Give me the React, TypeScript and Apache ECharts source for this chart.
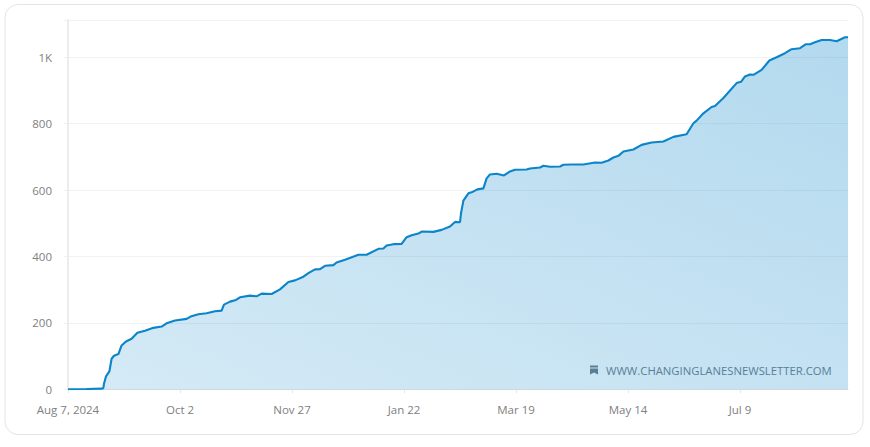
import React, { useEffect, useRef } from "react";
import * as echarts from "echarts";

const days = [0, 9.3, 17, 17.7, 18, 19, 20.7, 21.8, 23, 25.2, 26.8, 29, 31.8, 34.7, 38.5, 42.7, 46.8, 49.7, 53.5, 59.3, 61.3, 65.2, 69.3, 73.5, 76.8, 78, 81, 84, 86, 91, 94.3, 96.8, 101.8, 106, 110.2, 113.5, 117.7, 120.2, 123.5, 126, 128.5, 132.7, 134.3, 138.5, 145.2, 149.3, 155.2, 157.7, 159.3, 162.7, 166.8, 169.3, 171.8, 175.2, 176.8, 182.7, 186.8, 191, 193.5, 196, 196.5, 197.7, 200.2, 201.8, 204.7, 207.7, 209.3, 211, 214.3, 218, 221, 223.5, 229.3, 231, 236, 237.7, 241, 246, 247.7, 251.8, 257.7, 263.5, 266.8, 270.2, 272.7, 275.2, 277.7, 282.7, 286.8, 291.8, 297.7, 302.7, 309.3, 312.7, 314.3, 317.7, 321.8, 323.5, 327.7, 334.3, 336.5, 338.5, 341, 342.7, 346.8, 350.7, 354.3, 358.5, 361.8, 366, 369, 371, 373.5, 376.8, 381, 384.3, 388.5, 390];
const subscribers = [0, 1, 2, 4, 17, 39, 54, 92, 101, 106, 132, 144, 152, 170, 176, 185, 189, 200, 207, 212, 219, 226, 229, 235, 237, 255, 264, 269, 277, 282, 280, 288, 287, 301, 323, 328, 339, 350, 361, 362, 372, 374, 382, 390, 405, 405, 423, 424, 433, 437, 438, 458, 464, 469, 475, 474, 480, 490, 504, 503, 530, 568, 590, 593, 602, 605, 635, 647, 649, 644, 656, 661, 662, 665, 668, 673, 670, 671, 676, 677, 677, 683, 682, 689, 698, 703, 716, 722, 736, 743, 746, 760, 768, 801, 809, 831, 850, 853, 877, 922, 926, 942, 948, 947, 962, 990, 1000, 1012, 1024, 1027, 1039, 1039, 1045, 1052, 1052, 1048, 1060, 1060];
const tickDays = [0, 56, 112, 168, 224, 280, 336];
const tickLabels = ["Aug 7, 2024", "Oct 2", "Nov 27", "Jan 22", "Mar 19", "May 14", "Jul 9"];
const watermark = "WWW.CHANGINGLANESNEWSLETTER.COM";

echarts.graphic.registerShape(
  "bookmarkIcon",
  echarts.graphic.extendPath("M0 0H8V2H0ZM0 3H8V9L4 7L0 9Z", {}) as any
);

export default function App() {
  const ref = useRef<HTMLDivElement>(null);
  useEffect(() => {
    const chart = echarts.init(ref.current!, null, { renderer: "svg" });
    const font = "'Open Sans', 'Noto Sans', sans-serif";
    chart.setOption({
      animation: false,
      backgroundColor: "#ffffff",
      textStyle: { fontFamily: font },
      grid: { left: 68, right: 22, top: 20, bottom: 57.7 },
      xAxis: {
        type: "value",
        min: 0,
        max: 390,
        splitLine: { show: false },
        axisLine: { show: true, lineStyle: { color: "#d5dde3", width: 1 } },
        axisTick: { show: true, length: 4, lineStyle: { color: "#e6e6e6" }, customValues: tickDays },
        axisLabel: {
          color: "#808080",
          fontSize: 11.5,
          margin: 14,
          fontFamily: font,
          customValues: tickDays,
          formatter: (v: number) => tickLabels[tickDays.indexOf(v)] ?? "",
        },
      },
      yAxis: {
        type: "value",
        min: 0,
        max: 1112,
        interval: 200,
        axisLine: { show: true, lineStyle: { color: "#ececec", width: 2 } },
        axisTick: { show: true, length: 4, lineStyle: { color: "#f0f0f0" } },
        splitLine: { show: true, lineStyle: { color: "#f2f2f2", width: 1 } },
        axisLabel: {
          color: "#808080",
          fontSize: 11.5,
          margin: 16,
          fontFamily: font,
          formatter: (v: number) => (v === 1000 ? "1K" : v > 1000 ? "" : String(v)),
        },
      },
      series: [
        {
          type: "line",
          data: days.map((d, i) => [d, subscribers[i]]),
          showSymbol: false,
          smooth: false,
          lineStyle: { color: "#0a85c9", width: 2.1 },
          areaStyle: {
            color: new echarts.graphic.LinearGradient(0, 1, 1, 0, [
              { offset: 0, color: "rgba(10,133,201,0.17)" },
              { offset: 1, color: "rgba(10,133,201,0.31)" },
            ]),
            opacity: 1,
          },
        },
      ],
      graphic: [
        {
          type: "rect",
          z: -10,
          silent: true,
          shape: { x: 5, y: 4.5, width: 858, height: 430, r: 13 },
          style: { fill: "transparent", stroke: "#e4e4e4", lineWidth: 1 },
        },
        {
          type: "bookmarkIcon",
          x: 590,
          y: 365.5,
          silent: true,
          style: { fill: "#6f7d88" },
        },
        {
          type: "text",
          x: 606,
          y: 370,
          silent: true,
          style: {
            text: watermark,
            fill: "#6f7d88",
            fontSize: 11.3,
            fontFamily: font,
            verticalAlign: "middle",
          },
        },
      ],
    });
    return () => chart.dispose();
  }, []);
  return (
    <div
      ref={ref}
      style={{ position: "fixed", left: 0, top: 0, width: 870, height: 447, background: "#fff" }}
    />
  );
}
